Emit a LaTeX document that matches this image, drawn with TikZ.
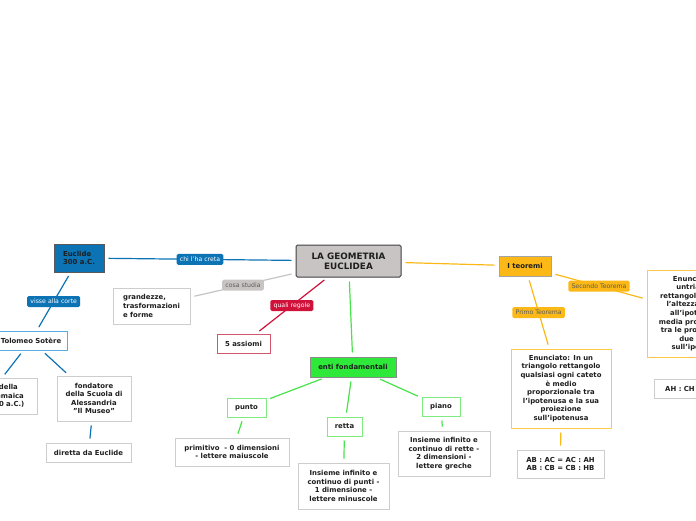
\documentclass[tikz,border=0pt]{standalone}
\usepackage{fontspec}
\setmainfont{DejaVu Sans}
\definecolor{ink}{HTML}{1E1E1E}
\definecolor{boxgray}{HTML}{CDCDCD}
\definecolor{eblue}{HTML}{0C73B5}
\definecolor{lightblue}{HTML}{58AEE3}
\definecolor{stone}{HTML}{C9C4C4}
\definecolor{stoneline}{HTML}{C4C4C4}
\definecolor{crimson}{HTML}{D0123A}
\definecolor{rose}{HTML}{D4566D}
\definecolor{leaf}{HTML}{48E24A}
\definecolor{leaffill}{HTML}{2EE83A}
\definecolor{leafedge}{HTML}{7DEB7D}
\definecolor{amber}{HTML}{FBB817}
\definecolor{amberedge}{HTML}{FFC94A}
\definecolor{mutedink}{HTML}{5A5A5A}

\begin{document}
\begin{tikzpicture}[x=1pt,y=-1pt,
    box/.style={draw=boxgray,line width=1pt,fill=white,text=ink,align=center,inner sep=0pt,
      font=\fontsize{6.9}{8.6}\selectfont\bfseries},
    sz/.style n args={2}{minimum width=#1pt,minimum height=#2pt},
    tag/.style={rounded corners=1.5pt,inner xsep=3.2pt,inner ysep=0pt,minimum height=11pt,
      font=\fontsize{6.2}{7}\selectfont},
    link/.style={line width=1.2pt,shorten <=4pt,shorten >=4pt}]
  \useasboundingbox (0,0) rectangle (696,520);
  \clip (0,0) rectangle (696,520);

  % centre
  \node[box,sz={105}{32},fill=stone,draw=ink!85,rounded corners=1.5pt,
    font=\fontsize{8.8}{10.2}\selectfont\bfseries] (main) at (348.5,261) {LA GEOMETRIA\\EUCLIDEA};

  % Euclide
  \node[box,sz={50}{28},fill=eblue,draw=mutedink,align=left] (euclide) at (79,258) {Euclide\\300 a.C.};
  \node[box,sz={72}{19},draw=lightblue] (tolomeo) at (31,340.5) {Tolomeo Sotère};
  \node[box,sz={98}{36}] (dinastia) at (-12,396) {fondatore della\\dinastia tolemaica\\(305 a.C. - 30 a.C.)};
  \node[box,sz={74}{45}] (scuola) at (94,398.5) {fondatore\\della Scuola di\\Alessandria\\ "Il Museo"};
  \node[box,sz={85}{19}] (diretta) at (88.5,452.5) {diretta da Euclide};

  % cosa studia / regole
  \node[box,sz={77}{36},align=left] (grandezze) at (151.5,306) {grandezze,\\trasformazioni\\e forme};
  \node[box,sz={53}{19},draw=rose] (assiomi) at (243.5,343.5) {5 assiomi};

  % enti fondamentali
  \node[box,sz={86}{20},fill=leaffill,draw=mutedink!70] (enti) at (353,367) {enti fondamentali};
  \node[box,sz={39}{19},draw=leafedge] (punto) at (246.5,407.5) {punto};
  \node[box,sz={35}{19},draw=leafedge] (retta) at (344.5,426.5) {retta};
  \node[box,sz={38}{19},draw=leafedge] (piano) at (441,406.5) {piano};
  \node[box,sz={114}{28}] (primitivo) at (232,452) {primitivo\ \ - 0 dimensioni\\- lettere maiuscole};
  \node[box,sz={91}{46}] (punti) at (343.5,486) {Insieme infinito e\\continuo di punti -\\1 dimensione -\\lettere minuscole};
  \node[box,sz={92}{45}] (rette) at (444,453.5) {Insieme infinito e\\continuo di rette -\\2 dimensioni -\\lettere greche};

  % teoremi
  \node[box,sz={52}{20},fill=amber,draw=mutedink!55] (teoremi) at (525,266) {I teoremi};
  \node[box,sz={100}{79},draw=amberedge] (primo) at (561,388.5)
    {Enunciato: In un\\triangolo rettangolo\\qualsiasi ogni cateto\\è medio\\proporzionale tra\\l'ipotenusa e la sua\\proiezione\\sull'ipotenusa};
  \node[box,sz={87}{28}] (proporzioni) at (560.5,464) {AB : AC = AC : AH\\ AB : CB = CB : HB};
  \node[box,sz={104}{87},draw=amberedge] (secondo) at (699,313.5)
    {Enunciato: In\\untriangolo\\rettangolo qualsiasi\\l'altezza relativa\\all'ipotenusa è\\media proporzionale\\tra le proiezioni dei\\due cateti\\sull'ipotenusa};
  \node[box,sz={92}{19}] (altezza) at (700,388.5) {AH : CH = CH : HB};

  % connectors
  \draw[link,eblue] (main) -- node[tag,fill=eblue,text=white]{chi l'ha creta} (euclide);
  \draw[link,eblue] (euclide) -- node[tag,fill=eblue,text=white]{visse alla corte} (tolomeo);
  \foreach \to in {dinastia,scuola}{\draw[link,eblue] (tolomeo) -- (\to);}
  \draw[link,eblue] (scuola) -- (diretta);
  \draw[link,stoneline] (main) -- node[tag,fill=stone,text=mutedink]{cosa studia} (grandezze);
  \draw[link,crimson] (main) -- node[tag,fill=crimson,text=white]{quali regole} (assiomi);
  \draw[link,leaf] (main) -- (enti);
  \foreach \to in {punto,retta,piano}{\draw[link,leaf] (enti) -- (\to);}
  \draw[link,leaf] (punto) -- (primitivo);
  \draw[link,leaf] (retta) -- (punti);
  \draw[link,leaf] (piano) -- (rette);
  \draw[link,amber] (main) -- (teoremi);
  \draw[link,amber] (teoremi) -- node[tag,fill=amber,text=mutedink]{Primo Teorema} (primo);
  \draw[link,amber] (teoremi) -- node[tag,fill=amber,text=mutedink]{Secondo Teorema} (secondo);
  \draw[link,amber] (primo) -- (proporzioni);
  \draw[link,amber] (secondo) -- (altezza);
\end{tikzpicture}
\end{document}
